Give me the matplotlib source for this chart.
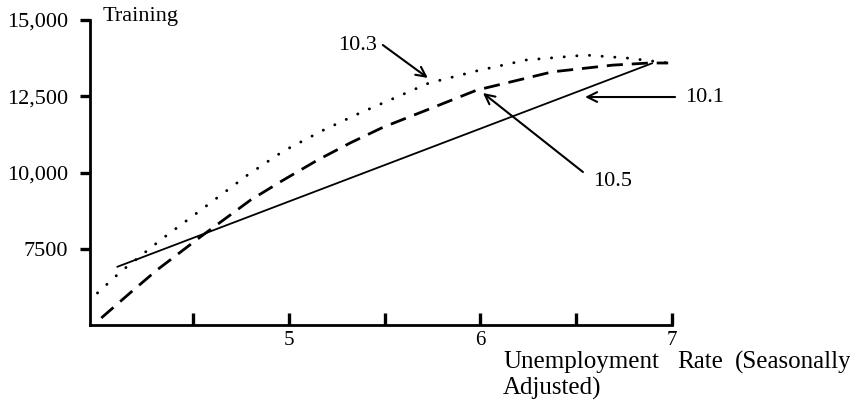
import matplotlib
matplotlib.use("Agg")
import matplotlib.pyplot as plt

# ---- data ----
x_101 = [4.10, 6.90]
y_101 = [6900, 13590]

x_103 = [4.00, 4.12, 4.33, 4.54, 4.78, 4.97, 5.18, 5.37, 5.73, 5.98, 6.24, 6.55, 6.77, 6.98]
y_103 = [6050, 6740, 7790, 8770, 9900, 10700, 11390, 11950, 12930, 13330, 13690, 13850, 13750, 13590]

x_105 = [4.02, 4.17, 4.31, 4.54, 4.80, 4.97, 5.15, 5.32, 5.49, 5.72, 5.98, 6.375, 6.69, 6.88, 6.98]
y_105 = [5230, 6050, 6800, 7900, 9100, 9750, 10410, 10970, 11480, 12050, 12700, 13300, 13520, 13590, 13590]

x_ticks = [4.5, 5, 5.5, 6, 6.5, 7]
x_ticklabels = ["", "5", "", "6", "", "7"]
y_ticks = [7500, 10000, 12500, 15000]
y_ticklabels = ["7500", "10,000", "12,500", "15,000"]

series_labels = ["10.1", "10.3", "10.5"]
xlabel_words = ["Unemployment", "Rate", "(Seasonally"]
xlabel_line2 = "Adjusted)"

plt.rcParams['font.family'] = ['Liberation Serif', 'DejaVu Serif']

W, H = 850, 412
fig = plt.figure(figsize=(W / 100, H / 100), dpi=100)
L, R, B, T = 90, 672, 325, 20
ax = fig.add_axes([L / W, (H - B) / H, (R - L) / W, (B - T) / H])

ax.set_xlim(3.961, 7.0)
ax.set_ylim(5000, 15000)

ax.plot(x_101, y_101, color='black', lw=1.3, solid_capstyle='butt')
ax.plot(x_103, y_103, color='black', lw=2.1, linestyle=(0, (0.05, 4.3)),
        dash_capstyle='round')
ax.plot(x_105, y_105, color='black', lw=2.0, linestyle=(0, (5.8, 3.2)),
        dash_capstyle='butt')

for s in ['top', 'right']:
    ax.spines[s].set_visible(False)
for s in ['left', 'bottom']:
    ax.spines[s].set_linewidth(2.0)

ax.set_xticks(x_ticks)
ax.set_xticklabels(x_ticklabels, fontsize=15)
ax.set_yticks(y_ticks)
ax.set_yticklabels(y_ticklabels, fontsize=16)
ax.tick_params(axis='x', direction='in', length=9, width=2.4, pad=4)
ax.tick_params(axis='y', direction='out', length=7, width=2.4, pad=9)

ax.text(4.024, 15130, "Training", fontsize=16, ha='left', va='center', clip_on=False)

arrow_kw = dict(arrowstyle='->,head_length=0.7,head_width=0.35', color='black', lw=1.5,
                shrinkA=0, shrinkB=0)

# 10.3
ax.text(5.36, 14180, series_labels[1], fontsize=16, ha='center', va='center')
ax.annotate('', xy=(5.725, 13100), xytext=(5.49, 14180), arrowprops=arrow_kw,
            annotation_clip=False)
# 10.1
ax.text(7.17, 12475, series_labels[0], fontsize=16, ha='center', va='center', clip_on=False)
ax.annotate('', xy=(6.546, 12475), xytext=(7.016, 12475), arrowprops=arrow_kw,
            annotation_clip=False)
# 10.5
ax.text(6.69, 9690, series_labels[2], fontsize=16, ha='center', va='center')
ax.annotate('', xy=(6.013, 12607), xytext=(6.535, 10016), arrowprops=arrow_kw,
            annotation_clip=False)

for word, px in zip(xlabel_words, [503, 677, 735]):
    fig.text(px / W, (H - 362) / H, word, fontsize=18, ha='left', va='center')
fig.text(503 / W, (H - 388) / H, xlabel_line2, fontsize=18, ha='left', va='center')

fig.savefig("out.png", dpi=100)
